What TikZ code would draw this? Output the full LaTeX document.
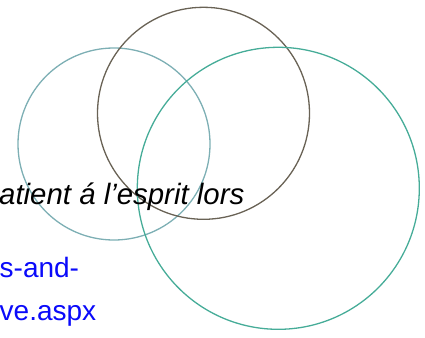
\documentclass[tikz,border=0pt]{standalone}
\usepackage{fontspec}
\setmainfont{Liberation Sans}
\definecolor{ringA}{RGB}{125,175,180}
\definecolor{ringB}{RGB}{105,98,85}
\definecolor{ringC}{RGB}{70,172,152}
\definecolor{linkblue}{RGB}{10,10,250}
\tikzset{
  ring/.style={line width=1.3pt},
  bodytext/.style={inner sep=0pt, anchor=base west, font=\fontsize{28}{34}\selectfont},
}
\begin{document}
\begin{tikzpicture}[x=1pt,y=-1pt]
\useasboundingbox (0,0) rectangle (425,337);
% three overlapping rings
\coordinate (cA) at (114,144);
\coordinate (cB) at (203.5,113.3);
\coordinate (cC) at (278.3,188.3);
\draw[ring, ringA] (cA) circle[radius=96];
\draw[ring, ringB] (cB) circle[radius=106];
\draw[ring, ringC] (cC) circle[radius=141];
% text lines
\node[bodytext, font=\fontsize{29.4}{34}\selectfont\itshape] (quote) at (-1,204) {atient á l’esprit lors};
\node[bodytext, text=linkblue] (urlA) at (-0.5,277) {s-and-};
\node[bodytext, text=linkblue] (urlB) at (-0.5,320) {ve.aspx};
\end{tikzpicture}
\end{document}
